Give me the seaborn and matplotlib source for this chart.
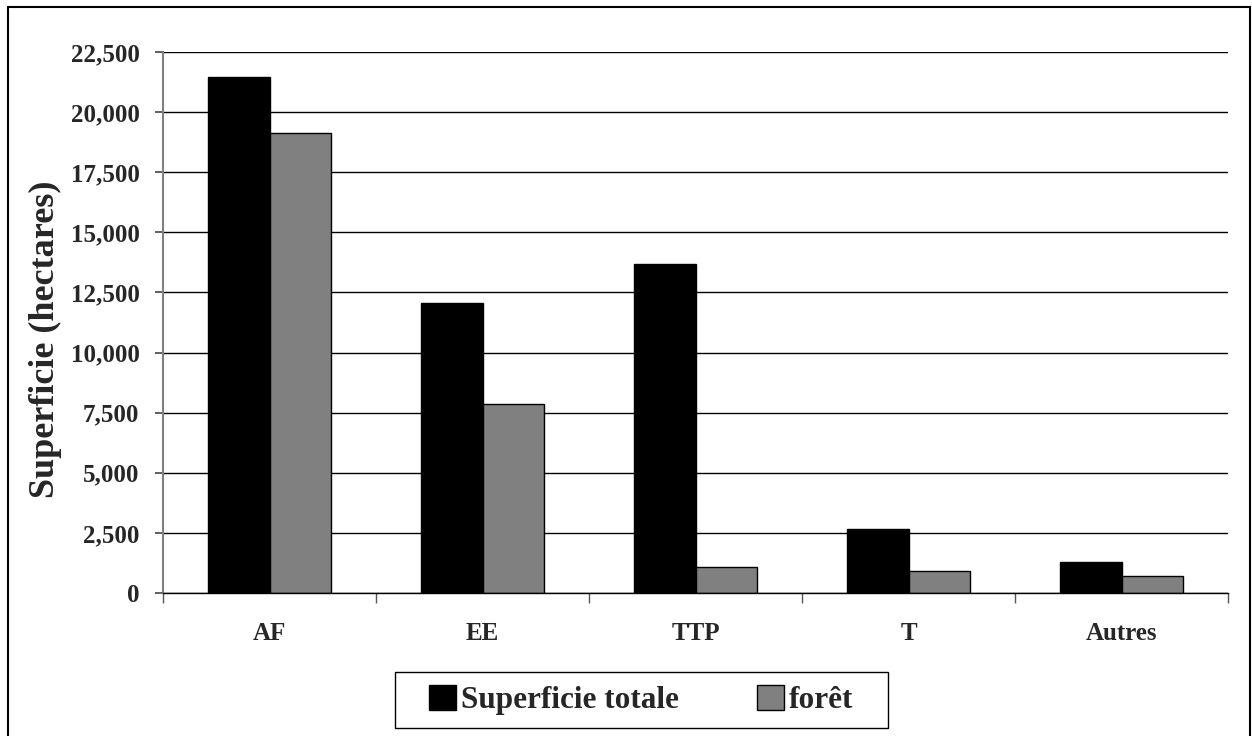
import matplotlib
matplotlib.use("Agg")
import matplotlib.pyplot as plt
import matplotlib.patches as mpatches
from matplotlib.ticker import FuncFormatter, MultipleLocator, FixedLocator
import seaborn as sns
import pandas as pd

categories = ["AF", "EE", "TTP", "T", "Autres"]
series_names = ["Superficie totale", "forêt"]
superficie_totale = [21450, 12050, 13700, 2650, 1300]
foret = [19150, 7850, 1075, 925, 700]
y_label = "Superficie (hectares)"

df = pd.DataFrame({
    "cat": categories * 2,
    "serie": [series_names[0]] * len(categories) + [series_names[1]] * len(categories),
    "val": superficie_totale + foret,
})

sns.set_theme(style="white")
plt.rcParams["font.family"] = ["Liberation Serif", "DejaVu Serif"]
plt.rcParams["font.weight"] = "bold"

fig = plt.figure(figsize=(12.52, 7.36), dpi=100)
ax = fig.add_axes([163/1252, 1-593/736, (1228-163)/1252, (593-52)/736])

sns.barplot(data=df, x="cat", y="val", hue="serie", order=categories,
            hue_order=series_names, palette=["#000000", "#808080"],
            edgecolor="black", linewidth=1.0, width=0.58, ax=ax, legend=True)

ax.set_ylim(0, 22500)
ax.set_xlim(-0.5, len(categories) - 0.5)
ax.yaxis.set_major_locator(MultipleLocator(2500))
ax.yaxis.set_major_formatter(FuncFormatter(lambda v, p: f"{int(v):,}"))
ax.grid(axis="y", color="black", linewidth=1.0)
ax.set_axisbelow(True)

for s in ["top", "right"]:
    ax.spines[s].set_visible(False)
ax.spines["left"].set_color("#808080")
ax.spines["left"].set_linewidth(1.5)
ax.spines["bottom"].set_color("black")
ax.spines["bottom"].set_linewidth(1.0)

ax.tick_params(axis="y", which="major", left=True, length=6, width=1.2, color="#444444",
               labelsize=18, pad=11)
ax.tick_params(axis="x", which="major", bottom=False, length=0, labelsize=18, pad=21)
ax.xaxis.set_minor_locator(FixedLocator([i - 0.5 for i in range(len(categories) + 1)]))
ax.tick_params(axis="x", which="minor", bottom=True, length=7, width=1.0, color="#555555")
for lab in ax.get_xticklabels() + ax.get_yticklabels():
    lab.set_fontweight("bold")

ax.set_xlabel("")
ax.set_ylabel(y_label, fontsize=26, fontweight="bold")
ax.yaxis.set_label_coords(-0.095, 0.469)

handles, labels = ax.get_legend_handles_labels()
leg = ax.legend(handles, labels, loc="center", bbox_to_anchor=(641/1252, 1-700/736),
                bbox_transform=fig.transFigure, ncol=2, frameon=False,
                prop={"family": "Liberation Serif", "weight": "bold", "size": 22.5},
                handlelength=0.87, handleheight=0.87, handletextpad=0.15, columnspacing=2.5,
                borderpad=0.2)

legbox = mpatches.Rectangle((395/1252, 1-728/736), (888-395)/1252, (728-672)/736,
                            transform=fig.transFigure, fill=False, edgecolor="black",
                            linewidth=1.0, clip_on=False)
fig.patches.append(legbox)

frame = mpatches.Rectangle((8/1252, -0.05), (1250-8)/1252, (736-7)/736 + 0.05,
                           transform=fig.transFigure, fill=False, edgecolor="black",
                           linewidth=1.5, clip_on=False)
fig.patches.append(frame)

fig.savefig("out.png", dpi=100)
